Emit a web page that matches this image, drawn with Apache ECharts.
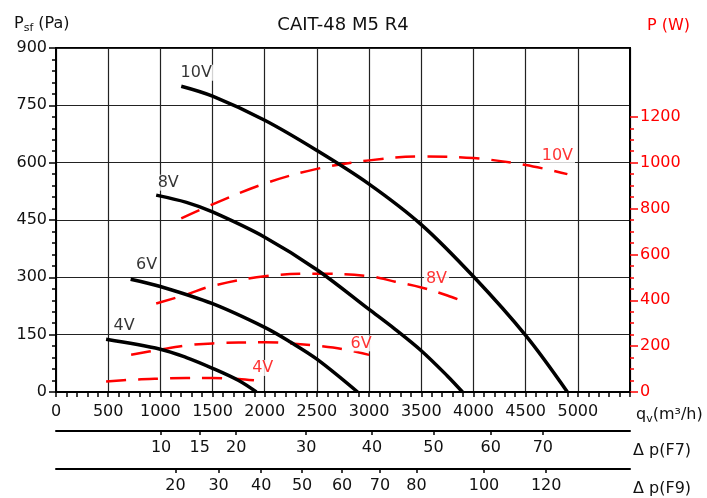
<!DOCTYPE html>
<html><head><meta charset="utf-8">
<script src="https://cdn.jsdelivr.net/npm/echarts@6/dist/echarts.min.js"></script>
<style>html,body{margin:0;padding:0;background:#fff}#c{width:707px;height:498px}</style>
</head><body><div id="c"></div>
<script>
// ---- data ----
const flow10 = [1200,1500,2000,2500,3000,3500,4000,4500,4900];
const psf10  = [800,774,711,632,544,438,302,148,0];
const flow8  = [960,1250,1500,2000,2500,3000,3250,3500,3750,3895];
const psf8   = [515,496,471,405,320,216,164,108,42,0];
const flow6  = [715,1000,1500,2000,2250,2500,2890];
const psf6   = [295,276,231,169,130,86,0];
const flow4  = [480,1000,1250,1500,1750,1920];
const psf4   = [138,112,90,62,30,0];

const pflow10 = [1200,1500,2000,2500,3000,3500,4000,4500,4900];
const pw10    = [757,818,909,973,1010,1027,1020,990,950];
const pflow8  = [960,1250,1500,2000,2500,3000,3250,3500,3750,3895];
const pw8     = [386,425,463,505,516,505,481,456,421,396];
const pflow6  = [720,1000,1250,1500,2000,2250,2500,2750,3000];
const pw6     = [162,185,203,212,217,212,202,187,162];
const pflow4  = [480,750,1000,1250,1500,1750,2000];
const pw4     = [46,54,58,61,61,57,46];

const f7Labels = ['10','15','20','30','40','50','60','70'];
const f7Flow   = [1007,1377,1727,2397,3028,3617,4165,4665];
const f9Labels = ['20','30','40','50','60','70','80','100','120'];
const f9Flow   = [1144,1558,1966,2358,2741,3104,3454,4101,4697];

const powerTicks = [0,200,400,600,800,1000,1200];
const powerMinorTicks = [50,100,150,250,300,350,450,500,550,650,700,750,850,900,950,1050,1100,1150];

const curveNames = ['10V','8V','6V','4V'];
// ---- chart ----
const FONT = 'DejaVu Sans';
const TXT = '#111';
const RED = '#ff0000';
const zip = (a,b) => a.map((v,i)=>[v,b[i]]);

const blackSets = [[flow10,psf10],[flow8,psf8],[flow6,psf6],[flow4,psf4]];
const redSets = [[pflow10,pw10],[pflow8,pw8],[pflow6,pw6],[pflow4,pw4]];
const blackOff = [[15,0],[12,1],[16,-1],[18,0]];
const redOff = [[-10,-5],[-26,-9],[-8,2],[-2,0]];

const series = [];
redSets.forEach((s,i)=>{
  series.push({type:'line', xAxisIndex:0, yAxisIndex:1, data:zip(s[0],s[1]), smooth:0.35,
    symbol:'none', silent:true, lineStyle:{color:RED, width:2.5, type:[20,12]}, z:3});
});
blackSets.forEach((s,i)=>{
  series.push({type:'line', xAxisIndex:0, yAxisIndex:0, data:zip(s[0],s[1]), smooth:0.35,
    symbol:'none', silent:true, lineStyle:{color:'#000', width:3.5}, z:4});
});
// labels
series.push({type:'scatter', xAxisIndex:0, yAxisIndex:0, symbolSize:1, silent:true, z:6,
  itemStyle:{color:'rgba(255,255,255,0)'},
  data: blackSets.map((s,i)=>({value:[s[0][0], s[1][0]],
    label:{show:true, position:'top', offset:blackOff[i], formatter:curveNames[i],
      color:'#000', fontFamily:FONT, fontSize:16, backgroundColor:'#fff', padding:[0,2]}}))
});
series.push({type:'scatter', xAxisIndex:0, yAxisIndex:1, symbolSize:1, silent:true, z:6,
  itemStyle:{color:'rgba(255,255,255,0)'},
  data: redSets.map((s,i)=>({value:[s[0][s[0].length-1], s[1][s[1].length-1]],
    label:{show:true, position:'top', offset:redOff[i], formatter:curveNames[i],
      color:RED, fontFamily:FONT, fontSize:16, backgroundColor:'#fff', padding:[0,2]}}))
});

const lbl = {fontFamily:FONT, fontSize:16, color:TXT};
const option = {
  animation:false,
  backgroundColor:'#fff',
  grid:[
    {left:56, right:77, top:48, bottom:106, show:true, borderColor:'#000', borderWidth:2, backgroundColor:'transparent'},
    {left:56, right:77, top:48, bottom:106, show:false}
  ],
  xAxis:[
    {type:'value', gridIndex:0, min:0, max:5500, interval:500, position:'bottom',
     axisLine:{onZero:false, lineStyle:{color:'#000', width:2}},
     axisTick:{show:true, length:5, lineStyle:{color:'#000', width:1.5}},
     minorTick:{show:true, splitNumber:5, length:5, lineStyle:{color:'#000', width:1.5}},
     splitLine:{show:true, lineStyle:{color:'#222', width:1.2}},
     axisLabel:Object.assign({margin:12, formatter:v=> v>5000?'':String(v)}, lbl)},
    {type:'value', gridIndex:0, min:0, max:5500, position:'bottom', offset:39,
     axisLine:{show:true, onZero:false, lineStyle:{color:'#000', width:2}},
     axisTick:{show:true, length:4, customValues:f7Flow, lineStyle:{color:'#000', width:1.5}},
     splitLine:{show:false},
     axisLabel:Object.assign({margin:9, customValues:f7Flow, formatter:v=>{const k=f7Flow.indexOf(v);return k>=0?f7Labels[k]:'';}}, lbl)},
    {type:'value', gridIndex:0, min:0, max:5500, position:'bottom', offset:77,
     axisLine:{show:true, onZero:false, lineStyle:{color:'#000', width:2}},
     axisTick:{show:true, length:4, customValues:f9Flow, lineStyle:{color:'#000', width:1.5}},
     splitLine:{show:false},
     axisLabel:Object.assign({margin:9, customValues:f9Flow, formatter:v=>{const k=f9Flow.indexOf(v);return k>=0?f9Labels[k]:'';}}, lbl)},
    {type:'value', gridIndex:1, min:0, max:5500, show:false}
  ],
  yAxis:[
    {type:'value', gridIndex:0, min:0, max:900, interval:150, position:'left',
     axisLine:{show:true, onZero:false, lineStyle:{color:'#000', width:2}},
     axisTick:{show:true, length:7, lineStyle:{color:'#000', width:1.5}},
     minorTick:{show:true, splitNumber:5, length:4, lineStyle:{color:'#000', width:1.5}},
     splitLine:{show:true, lineStyle:{color:'#222', width:1.2}},
     axisLabel:Object.assign({margin:9}, lbl)},
    {type:'value', gridIndex:0, min:0, max:1500, position:'right',
     axisLine:{show:true, onZero:false, lineStyle:{color:'#000', width:2}},
     axisTick:{show:true, length:8, customValues:powerTicks, lineStyle:{color:RED, width:1.5}},
     splitLine:{show:false},
     axisLabel:{margin:10, customValues:powerTicks, formatter:v=>String(v), fontFamily:FONT, fontSize:16, color:RED}},
    {type:'value', gridIndex:1, min:0, max:1500, position:'right',
     axisLine:{show:false, onZero:false},
     axisTick:{show:true, length:4, customValues:powerMinorTicks, lineStyle:{color:RED, width:1.5}},
     splitLine:{show:false},
     axisLabel:{show:false}}
  ],
  graphic:[
    {type:'text', x:343, y:25, style:{text:'CAIT-48 M5 R4', font:'18px "DejaVu Sans"', fill:'#111', align:'center', verticalAlign:'middle'}},
    {type:'text', x:14, y:24, style:{text:'{a|P}{s|sf}{a| (Pa)}', verticalAlign:'middle',
      rich:{a:{fontFamily:FONT, fontSize:16, fill:TXT, color:TXT}, s:{fontFamily:FONT, fontSize:11, fill:TXT, color:TXT, padding:[8,0,0,0]}}}},
    {type:'text', x:647, y:26, style:{text:'P (W)', font:'16px "DejaVu Sans"', fill:RED, verticalAlign:'middle'}},
    {type:'text', x:636, y:415, style:{text:'{a|q}{s|v}{a|(m³/h)}', verticalAlign:'middle',
      rich:{a:{fontFamily:FONT, fontSize:16, fill:TXT, color:TXT}, s:{fontFamily:FONT, fontSize:11, fill:TXT, color:TXT, padding:[8,0,0,0]}}}},
    {type:'text', x:633, y:451, style:{text:'Δ p(F7)', font:'16px "DejaVu Sans"', fill:TXT, verticalAlign:'middle'}},
    {type:'text', x:633, y:489, style:{text:'Δ p(F9)', font:'16px "DejaVu Sans"', fill:TXT, verticalAlign:'middle'}}
  ],
  series
};
const chart = echarts.init(document.getElementById('c'), null, {renderer:'canvas'});
chart.setOption(option);
</script></body></html>
